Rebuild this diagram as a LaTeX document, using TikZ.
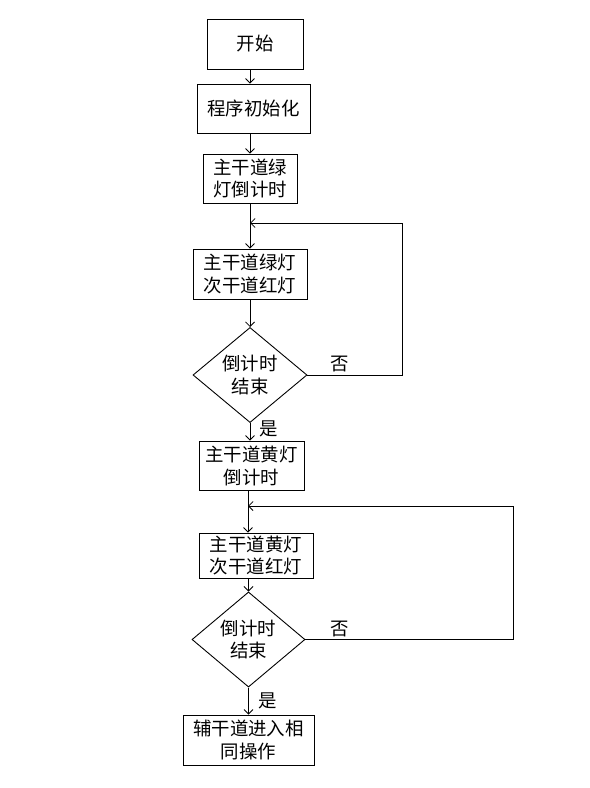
\documentclass[tikz,border=0pt]{standalone}
\usepackage{fontspec}
\newfontfamily\cjk{Noto Sans CJK SC}
\usetikzlibrary{shapes.geometric,arrows.meta}
\tikzset{
  box/.style={draw, rectangle, inner sep=0pt, align=center},
  dec/.style={draw, diamond, inner sep=0pt, align=center},
  conn/.style={draw, line width=0.8pt, -{Straight Barb[length=4.5pt,width=9pt,line width=0.8pt]}},
  lbl/.style={inner sep=0pt}
}
\begin{document}
\begin{tikzpicture}[x=1bp,y=-1bp,line width=0.9pt,
  every node/.style={font=\cjk\fontsize{18.5}{23}\selectfont}]
\useasboundingbox (0,0) rectangle (590,788);
\node[box, minimum width=96bp, minimum height=50bp] (start) at (255,44) {开始};
\node[box, minimum width=113bp, minimum height=49bp] (init) at (253.5,108.5) {程序初始化};
\node[box, minimum width=94bp, minimum height=49bp] (gcd) at (250,178.5) {主干道绿\\灯倒计时};
\node[box, minimum width=114bp, minimum height=50bp] (green) at (250,274) {主干道绿灯\\次干道红灯};
\node[dec, minimum width=114bp, minimum height=76bp] (d1) at (250,375) {倒计时\\结束};
\node[box, minimum width=105bp, minimum height=49bp] (ycd) at (251.5,465.5) {主干道黄灯\\倒计时};
\node[box, minimum width=114bp, minimum height=45bp] (yellow) at (256,555.5) {主干道黄灯\\次干道红灯};
\node[dec, minimum width=113bp, minimum height=75bp] (d2) at (248.5,639.5) {倒计时\\结束};
\node[box, minimum width=131bp, minimum height=50bp] (final) at (248.5,740) {辅干道进入相\\同操作};

\coordinate (j1) at (250,223);
\coordinate (j2) at (248,506);

\draw[conn] (start.south -| 250,0) -- (init.north -| 250,0);
\draw[conn] (init.south -| gcd.north) -- (gcd.north);
\draw[conn] (gcd.south) -- (green.north);
\draw[conn] (green.south) -- (d1.north);
\draw[conn] (d1.south) -- (ycd.north -| d1.south);
\draw[conn] (ycd.south -| j2) -- (yellow.north -| j2);
\draw[conn] (yellow.south -| d2.north) -- (d2.north);
\draw[conn] (d2.south) -- (final.north);

\draw[conn] (d1.east) -- (402,375) -- (402,223) -- (j1);
\draw[conn] (d2.east) -- (513,639.5) -- (513,506) -- (j2);

\node[lbl] (no1) at (340,364) {否};
\node[lbl] (no2) at (340,629) {否};
\node[lbl] (yes1) at (269,429) {是};
\node[lbl] (yes2) at (268,701) {是};
\end{tikzpicture}
\end{document}
